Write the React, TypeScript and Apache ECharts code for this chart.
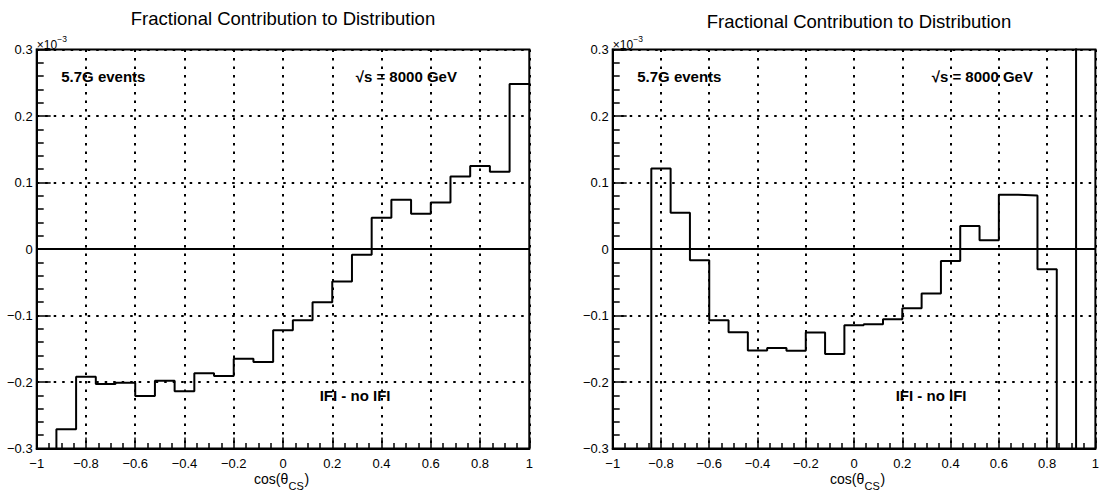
import React, { useEffect, useRef } from 'react';
import * as echarts from 'echarts';

// Bin edges of the cos(theta_CS) histograms (25 bins, last entry is the upper edge)
const binEdges = [
  -1, -0.92, -0.84, -0.76, -0.68, -0.6, -0.52, -0.44, -0.36, -0.28, -0.2, -0.12, -0.04,
  0.04, 0.12, 0.2, 0.28, 0.36, 0.44, 0.52, 0.6, 0.68, 0.76, 0.84, 0.92, 1,
];

// Bin contents, in units of 1e-3
const leftValues = [
  -0.34, -0.271, -0.192, -0.203, -0.201, -0.221, -0.198, -0.214, -0.187, -0.191, -0.165,
  -0.17, -0.122, -0.107, -0.08, -0.049, -0.0085, 0.047, 0.074, 0.053, 0.07, 0.109, 0.125,
  0.116, 0.248,
];
const rightValues = [
  -0.52, -0.47, 0.121, 0.0545, -0.017, -0.107, -0.125, -0.1525, -0.149, -0.153, -0.1255,
  -0.158, -0.1145, -0.113, -0.1055, -0.089, -0.067, -0.018, 0.0345, 0.013, 0.0815, 0.0805,
  -0.0305, -0.55, 0.6,
];

const panelTitle = 'Fractional Contribution to Distribution';
const eventsLabel = '5.7G events';
const energyLabel = '\u221As = 8000 GeV';
const diffLabel = 'IFI - no IFI';

const FONT = "'Liberation Sans', Arial, Helvetica, sans-serif";
const PLOT_W = 492.6;
const PLOT_H = 399;
const PLOT_TOP = 49.5;
const PANEL_LEFTS = [36.7, 612.7];

const fmt = (v: number) => {
  const r = Math.round(v * 10) / 10;
  if (r === 0) return '0';
  return (r < 0 ? '\u2212' : '') + String(Math.abs(r));
};

const histPoints = (vals: number[]) =>
  binEdges.map((x, i) => [x, vals[Math.min(i, vals.length - 1)]]);

export default function App() {
  const ref = useRef<HTMLDivElement>(null);

  useEffect(() => {
    if (!ref.current) return;
    const chart = echarts.init(ref.current, undefined, { renderer: 'svg' });
    const black = '#000';

    const grids = PANEL_LEFTS.map((left) => ({
      left,
      top: PLOT_TOP,
      width: PLOT_W,
      height: PLOT_H,
      show: true,
      borderColor: black,
      borderWidth: 2,
      backgroundColor: 'transparent',
      containLabel: false,
    }));

    const dotted = { color: black, width: 2, type: [2.5, 6] as any };

    const xAxes = PANEL_LEFTS.map((_, i) => ({
      type: 'value',
      gridIndex: i,
      min: -1,
      max: 1,
      interval: 0.2,
      axisLine: { show: true, onZero: false, lineStyle: { color: black, width: 2 } },
      axisTick: { show: true, inside: true, length: 11, lineStyle: { color: black, width: 1.5 } },
      minorTick: { show: true, splitNumber: 4, length: 5.5, lineStyle: { color: black, width: 1.5 } },
      splitLine: { show: true, lineStyle: dotted },
      axisLabel: { color: black, fontSize: 13, fontFamily: FONT, margin: 8, formatter: fmt },
    }));

    const yAxes = PANEL_LEFTS.map((_, i) => ({
      type: 'value',
      gridIndex: i,
      min: -0.3,
      max: 0.3,
      interval: 0.1,
      axisLine: { show: true, onZero: false, lineStyle: { color: black, width: 2 } },
      axisTick: { show: true, inside: true, length: 14, lineStyle: { color: black, width: 1.5 } },
      minorTick: { show: true, splitNumber: 5, length: 7, lineStyle: { color: black, width: 1.5 } },
      splitLine: { show: true, lineStyle: dotted },
      axisLabel: { color: black, fontSize: 13, fontFamily: FONT, margin: 4, formatter: fmt },
    }));

    const series = [leftValues, rightValues].map((vals, i) => ({
      type: 'line',
      xAxisIndex: i,
      yAxisIndex: i,
      data: histPoints(vals),
      step: 'end',
      symbol: 'none',
      clip: true,
      lineStyle: { color: black, width: 2 },
      markLine: {
        silent: true,
        symbol: ['none', 'none'],
        label: { show: false },
        lineStyle: { type: 'solid', color: black, width: 2 },
        data: [{ yAxis: 0 }],
      },
    }));

    const txt = (x: number, y: number, text: string, size: number, extra: any = {}) => ({
      type: 'text',
      x,
      y,
      silent: true,
      style: {
        text,
        fill: black,
        fontSize: size,
        fontFamily: FONT,
        align: 'left',
        verticalAlign: 'middle',
        ...extra,
      },
    });

    const graphic: any[] = [];
    PANEL_LEFTS.forEach((L, i) => {
      const C = L + PLOT_W / 2;
      graphic.push(txt(C, i === 0 ? 18.5 : 21.5, panelTitle, 18.5, { align: 'center' }));
      graphic.push(txt(L, 44.5, '\u00D710', 12));
      graphic.push(txt(L + 20.5, 38.5, '\u22123', 8.5));
      graphic.push(txt(L + 24.5, 76, eventsLabel, 15, { fontWeight: 'bold' }));
      graphic.push(txt(L + 319, 76, energyLabel, 15, { fontWeight: 'bold' }));
      graphic.push(txt(L + 283, 395, diffLabel, 15, { fontWeight: 'bold' }));
      graphic.push(txt(C - 29, 479, 'cos(\u03B8', 14));
      graphic.push(txt(C + 5.5, 486, 'CS', 11));
      graphic.push(txt(C + 21.5, 479, ')', 14));
    });

    chart.setOption({
      animation: false,
      backgroundColor: '#fff',
      textStyle: { fontFamily: FONT },
      grid: grids,
      xAxis: xAxes,
      yAxis: yAxes,
      series,
      graphic,
    } as any);

    return () => chart.dispose();
  }, []);

  return (
    <div
      ref={ref}
      style={{ position: 'absolute', left: 0, top: 0, width: 1102, height: 491 }}
    />
  );
}
